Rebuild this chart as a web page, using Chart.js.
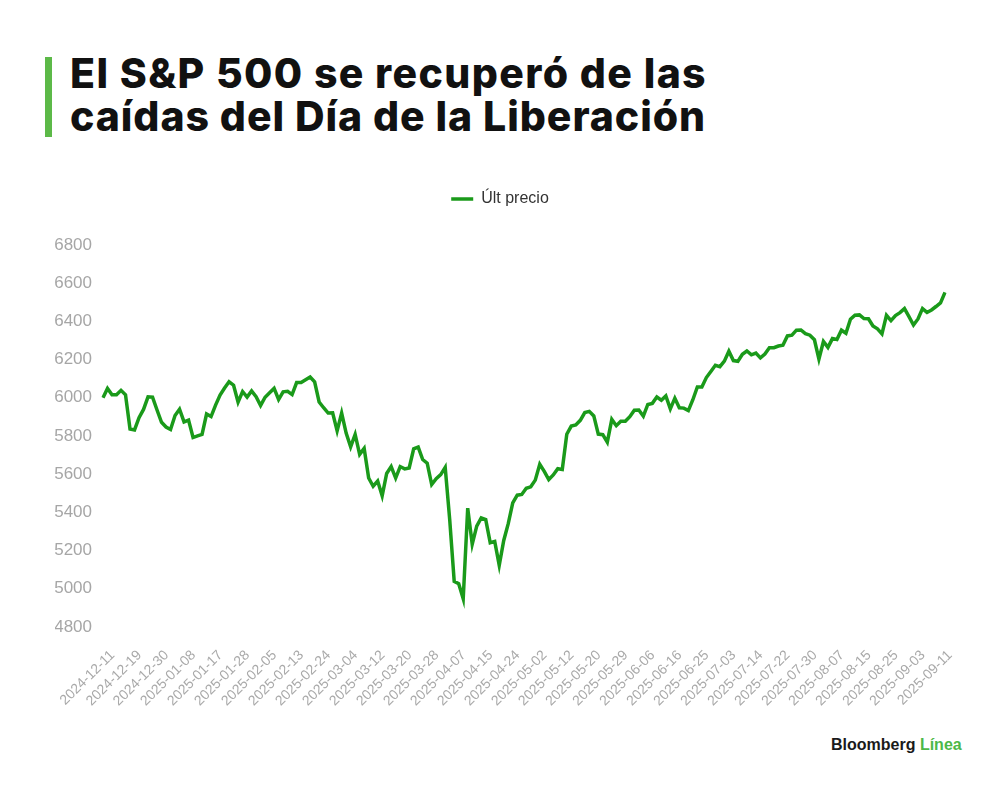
<!DOCTYPE html>
<html>
<head>
<meta charset="utf-8">
<script src="https://cdn.jsdelivr.net/npm/chart.js@4.4.1/dist/chart.umd.min.js"></script>
<style>
html,body{margin:0;padding:0;background:#fff;width:1000px;height:790px;overflow:hidden;}
#bar{position:absolute;left:45px;top:57px;width:7px;height:80px;background:#5cb948;}
#title{position:absolute;left:70px;top:52px;font-family:Inter,'Liberation Sans',sans-serif;font-weight:800;font-size:41px;line-height:43.4px;color:#111;white-space:nowrap;}
#title .tl{display:inline-block;}
#wrap{position:absolute;left:0;top:160px;width:1000px;height:560px;}
#logo{position:absolute;left:831px;top:737px;font-family:'Liberation Sans',Arial,sans-serif;font-weight:700;font-size:16px;line-height:16px;color:#1a1a1a;white-space:nowrap;}
#logo span{color:#4cb848;}
</style>
</head>
<body>
<div id="bar"></div>
<div id="title"><span class="tl" data-w="637">El S&amp;P 500 se recuperó de las</span><br><span class="tl" data-w="636">caídas del Día de la Liberación</span></div>
<div id="wrap"><canvas id="c"></canvas></div>
<div id="logo">Bloomberg <span>Línea</span></div>
<script>
// Categories (trading days shown on the x axis)
const dates = [
'2024-12-11','2024-12-12','2024-12-13','2024-12-16','2024-12-17','2024-12-18','2024-12-19','2024-12-20','2024-12-23','2024-12-24','2024-12-26','2024-12-27','2024-12-30','2024-12-31',
'2025-01-02','2025-01-03','2025-01-06','2025-01-07','2025-01-08','2025-01-10','2025-01-13','2025-01-14','2025-01-15','2025-01-16','2025-01-17','2025-01-21','2025-01-22','2025-01-23','2025-01-24','2025-01-27','2025-01-28','2025-01-29','2025-01-30','2025-01-31',
'2025-02-03','2025-02-04','2025-02-05','2025-02-06','2025-02-07','2025-02-10','2025-02-11','2025-02-12','2025-02-13','2025-02-14','2025-02-18','2025-02-19','2025-02-20','2025-02-21','2025-02-24','2025-02-25','2025-02-26','2025-02-27','2025-02-28',
'2025-03-03','2025-03-04','2025-03-05','2025-03-06','2025-03-07','2025-03-10','2025-03-11','2025-03-12','2025-03-13','2025-03-14','2025-03-17','2025-03-18','2025-03-19','2025-03-20','2025-03-21','2025-03-24','2025-03-25','2025-03-26','2025-03-27','2025-03-28','2025-03-31',
'2025-04-01','2025-04-02','2025-04-03','2025-04-04','2025-04-07','2025-04-08','2025-04-09','2025-04-10','2025-04-11','2025-04-14','2025-04-15','2025-04-16','2025-04-17','2025-04-21','2025-04-22','2025-04-23','2025-04-24','2025-04-25','2025-04-28','2025-04-29','2025-04-30',
'2025-05-01','2025-05-02','2025-05-05','2025-05-06','2025-05-07','2025-05-08','2025-05-09','2025-05-12','2025-05-13','2025-05-14','2025-05-15','2025-05-16','2025-05-19','2025-05-20','2025-05-21','2025-05-22','2025-05-23','2025-05-27','2025-05-28','2025-05-29','2025-05-30',
'2025-06-02','2025-06-03','2025-06-04','2025-06-05','2025-06-06','2025-06-09','2025-06-10','2025-06-11','2025-06-12','2025-06-13','2025-06-16','2025-06-17','2025-06-18','2025-06-20','2025-06-23','2025-06-24','2025-06-25','2025-06-26','2025-06-27','2025-06-30',
'2025-07-01','2025-07-02','2025-07-03','2025-07-07','2025-07-08','2025-07-09','2025-07-10','2025-07-11','2025-07-14','2025-07-15','2025-07-16','2025-07-17','2025-07-18','2025-07-21','2025-07-22','2025-07-23','2025-07-24','2025-07-25','2025-07-28','2025-07-29','2025-07-30','2025-07-31',
'2025-08-01','2025-08-04','2025-08-05','2025-08-06','2025-08-07','2025-08-08','2025-08-11','2025-08-12','2025-08-13','2025-08-14','2025-08-15','2025-08-18','2025-08-19','2025-08-20','2025-08-21','2025-08-22','2025-08-25','2025-08-26','2025-08-27','2025-08-28','2025-08-29',
'2025-09-02','2025-09-03','2025-09-04','2025-09-05','2025-09-08','2025-09-09','2025-09-10','2025-09-11','2025-09-12'
];

// Series values ("Últ precio")
const lastPrice = [
6000,6049,6016,6016,6039,6016,5837,5832,5896,5939,6005,6003,5936,5872,5847,
5834,5907,5940,5874,5883,5792,5801,5808,5915,5902,5962,6014,6051,6084,6066,5977,6033,6004,6036,6006,
5960,6003,6026,6049,5991,6031,6034,6017,6080,6080,6095,6109,6083,5978,5948,5920,5921,5827,5920,
5815,5743,5808,5704,5735,5580,5537,5564,5487,5604,5640,5580,5640,5628,5633,5733,5742,5677,5658,5546,5577,
5598,5636,5362,5039,5027,4948,5422,5233,5328,5371,5362,5241,5248,5123,5253,5341,5450,5490,5494,5526,5534,
5569,5652,5615,5572,5596,5629,5625,5809,5852,5858,5882,5923,5929,5905,5810,5807,5768,5887,5854,5877,5877,
5901,5935,5936,5904,5965,5971,6004,5987,6010,5942,5998,5948,5946,5933,5990,6057,6057,6106,6138,6170,
6163,6192,6244,6195,6191,6228,6245,6225,6234,6209,6229,6262,6262,6271,6275,6324,6328,6354,6355,6336,6328,6304,
6203,6295,6264,6310,6305,6354,6338,6411,6432,6434,6415,6414,6376,6361,6335,6432,6404,6431,6446,6467,6425,
6381,6413,6467,6447,6460,6478,6497,6552
];

// Tick settings
const yMin = 4800;
const yMax = 6800;
const yStep = 200;
const xLabelEvery = 6;

const seriesName = 'Últ precio';
const lineColor = '#1a9a1a';

function fitTitle(){
  document.querySelectorAll('.tl').forEach(el=>{
    el.style.letterSpacing='0px';
    const w = el.getBoundingClientRect().width;
    const n = el.textContent.length;
    el.style.letterSpacing = ((+el.dataset.w - w)/n) + 'px';
  });
}

const legendGap = {
  id:'legendGap',
  beforeUpdate(chart){
    const lg = chart.legend;
    if (lg && !lg._patched){
      const f = lg.fit;
      lg.fit = function(){ f.call(this); this.height += 28; };
      lg._patched = true;
    }
  }
};

function draw(){
  fitTitle();
  new Chart(document.getElementById('c'), {
    type:'line',
    data:{
      labels: dates,
      datasets:[{
        label: seriesName,
        data: lastPrice,
        borderColor: lineColor,
        backgroundColor: lineColor,
        borderWidth: 3.5,
        pointRadius: 0,
        tension: 0,
        fill: false
      }]
    },
    options:{
      responsive:true,
      maintainAspectRatio:false,
      animation:false,
      layout:{padding:{left:55,right:55,top:21,bottom:0}},
      plugins:{
        legend:{
          display:true,
          position:'top',
          labels:{
            usePointStyle:true,
            pointStyle:'line',
            pointStyleWidth:22,
            color:'#333',
            font:{family:"'Liberation Sans', Arial, sans-serif", size:16},
            padding:10
          }
        },
        tooltip:{enabled:false}
      },
      scales:{
        x:{
          grid:{display:false},
          border:{display:false},
          ticks:{
            autoSkip:false,
            minRotation:45,
            maxRotation:45,
            padding:12,
            labelOffset:9.5,
            color:'#a9a9a9',
            font:{family:"'Liberation Sans', Arial, sans-serif", size:14},
            callback(v,i){ return i % xLabelEvery === 0 ? dates[i] : null; }
          },
          afterFit(s){ s.height = 93; }
        },
        y:{
          min:yMin,
          max:yMax,
          grid:{display:false},
          border:{display:false},
          ticks:{
            stepSize:yStep,
            color:'#a6a6a6',
            font:{family:"'Liberation Sans', Arial, sans-serif", size:17},
            callback(v){ return String(v); }
          },
          afterFit(s){ s.width = 48; }
        }
      }
    },
    plugins:[legendGap]
  });
}
if (document.fonts && document.fonts.ready) { document.fonts.ready.then(draw); } else { draw(); }
</script>
</body>
</html>
